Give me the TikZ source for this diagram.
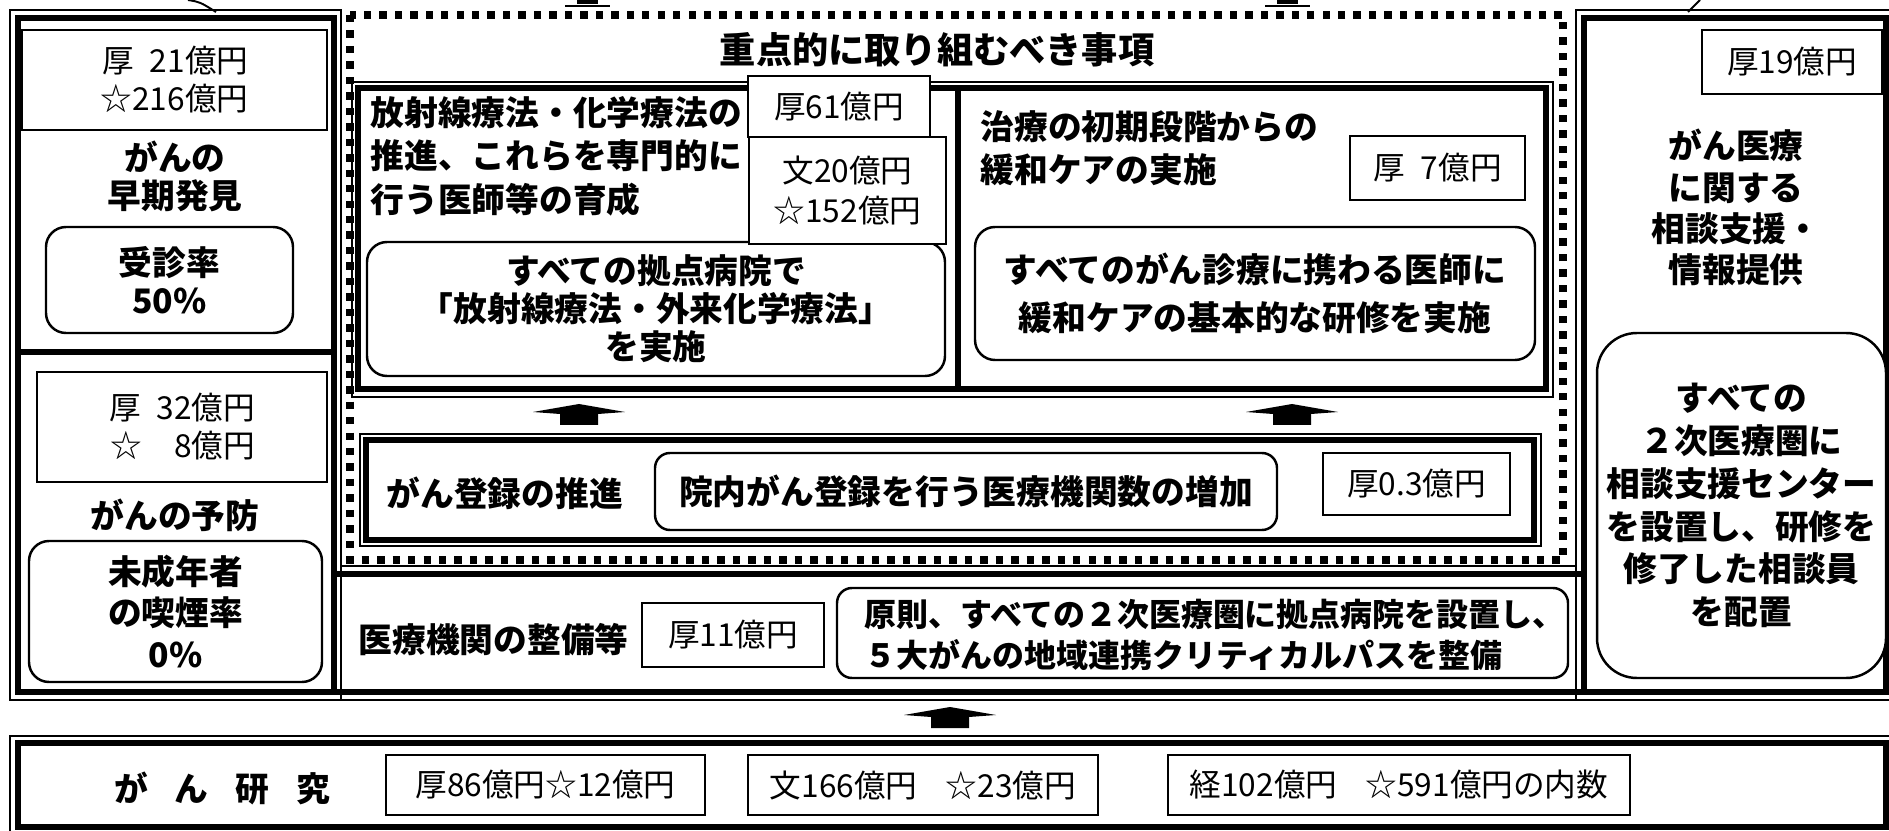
\documentclass[tikz,border=0pt]{standalone}
\usepackage{fontspec}
\setmainfont{Noto Sans CJK JP}

\begin{document}
\begin{tikzpicture}[x=0.1mm, y=-0.1mm,
    thinrule/.style={line width=0.55pt},
    thickrule/.style={line width=1.7pt},
    dotrule/.style={line width=2.1pt, dash pattern=on 2.1pt off 2.3pt},
    lbl/.style={inner sep=0pt, align=center,
      font=\bfseries\fontsize{9.6}{#1}\selectfont},
    lbl/.default=10.8pt,
    money/.style={draw, line width=0.7pt, fill=white, inner sep=0pt,
      align=center, font=\fontsize{9}{#1}\selectfont},
    money/.default=10.8pt,
    rbox/.style={draw, line width=0.7pt, fill=white, rounded corners=2mm,
      inner sep=0pt, align=center,
      font=\bfseries\fontsize{9.6}{#1}\selectfont},
    rbox/.default=10.8pt,
    uparrow/.pic={\fill (-46,-13) -- (0,-21) -- (46,-13) -- (19,-11)
      -- (19,0) -- (-19,0) -- (-19,-11) -- cycle;}
  ]
  \fill[white] (0,0) rectangle (1889,831);
  \useasboundingbox (0,0) rectangle (1889,831);

  % cut-off strokes along the top edge
  \draw[thinrule] (188,0) .. controls (200,2) .. (216,12);
  \fill (577,0) rectangle (598,4);
  \draw[thinrule] (565,6) -- (610,6);
  \fill (1277,0) rectangle (1298,4);
  \draw[thinrule] (1265,6) -- (1310,6);
  \draw[thinrule] (1700,0) -- (1688,12);

  % frames
  \draw[thinrule] (10,10) rectangle (341,700);
  \draw[thickrule] (18,18) rectangle (334,692);
  \draw[thickrule] (18,352) -- (334,352);
  \draw[thinrule] (1576,10) rectangle (1900,700);
  \draw[thickrule] (1584,18) rectangle (1886,692);
  \draw[thinrule] (341,566) -- (1576,566);
  \draw[thickrule] (334,574) -- (1584,574);
  \draw[thinrule] (341,700) -- (1576,700);
  \draw[thickrule] (334,692) -- (1584,692);
  \draw[dotrule] (350,15) rectangle (1563,560);
  \draw[thinrule] (352,82) rectangle (1553,397);
  \draw[thickrule] (358,88) rectangle (1546,389);
  \draw[thickrule] (958,88) -- (958,389);
  \draw[thinrule] (360,434) rectangle (1541,546);
  \draw[thickrule] (366,440) rectangle (1534,540);
  \draw[thinrule] (10,736) rectangle (1900,840);
  \draw[thickrule] (18,743) rectangle (1886,827);

  % left column
  \node[money, minimum width=30.5mm, minimum height=10mm, align=right]
    (kou21) at (174.5,80) {厚\enspace 21億円\\☆216億円};
  \node[lbl] (souki) at (175,176) {がんの\\早期発見};
  \node[rbox, minimum width=24.7mm, minimum height=10.6mm]
    (jushin) at (169.5,280) {受診率\\50\%};
  \node[money, minimum width=29mm, minimum height=11mm, align=right]
    (kou32) at (182,427) {厚\enspace 32億円\\☆\enspace\enspace 8億円};
  \node[lbl] (yobou) at (175,515) {がんの予防};
  \node[rbox=11.7pt, minimum width=29.3mm, minimum height=14.1mm]
    (kitsuen) at (175.5,611.5) {未成年者\\の喫煙率\\0\%};

  % middle column
  \node[lbl, font=\bfseries\fontsize{10.3}{12}\selectfont]
    (juten) at (937,50) {重点的に取り組むべき事項};
  \node[rbox, minimum width=57.8mm, minimum height=13.4mm]
    (kyoten) at (656,309)
    {すべての拠点病院で\\「放射線療法・外来化学療法」\\を実施};
  \node[lbl=12.4pt, align=left, anchor=west]
    (housha) at (370,156)
    {放射線療法・化学療法の\\推進、これらを専門的に\\行う医師等の育成};
  \node[money, minimum width=18.2mm, minimum height=6.1mm]
    (kou61) at (839,106.5) {厚61億円};
  \node[money=11.4pt, minimum width=19.7mm, minimum height=10.7mm]
    (bun20) at (847.5,190.5) {文20億円\\☆152億円};
  \node[lbl=12.2pt, align=left, anchor=west]
    (kanwa) at (980,148.5) {治療の初期段階からの\\緩和ケアの実施};
  \node[money, minimum width=17.5mm, minimum height=6.4mm]
    (kou7) at (1437.5,168) {厚\enspace 7億円};
  \node[rbox=13.4pt, minimum width=56mm, minimum height=13.3mm]
    (kenshu) at (1255,293.5)
    {すべてのがん診療に携わる医師に\\緩和ケアの基本的な研修を実施};
  \pic at (579,425) {uparrow};
  \pic at (1292,425) {uparrow};
  \node[lbl, anchor=west] (touroku) at (386,493) {がん登録の推進};
  \node[rbox, rounded corners=1.5mm, minimum width=62.2mm,
    minimum height=7.7mm] (innai) at (966,491.5)
    {院内がん登録を行う医療機関数の増加};
  \node[money, minimum width=18.7mm, minimum height=6.2mm]
    (kou03) at (1416.5,484) {厚0.3億円};
  \node[lbl, anchor=west] (seibi) at (358,640) {医療機関の整備等};
  \node[money, minimum width=18.2mm, minimum height=6.4mm]
    (kou11) at (733,635) {厚11億円};
  \node[rbox, rounded corners=1.5mm, minimum width=73.1mm,
    minimum height=9mm] (gensoku) at (1202.5,633) {};
  \node[lbl=11.7pt, align=left, anchor=west,
    font=\bfseries\fontsize{9.1}{11.7pt}\selectfont] (gentext) at (864,635)
    {原則、すべての２次医療圏に拠点病院を設置し、\\５大がんの地域連携クリティカルパスを整備};

  % right column
  \node[money, minimum width=18mm, minimum height=6.4mm]
    (kou19) at (1792,62) {厚19億円};
  \node[lbl=11.7pt] (soudan) at (1736,207.5)
    {がん医療\\に関する\\相談支援・\\情報提供};
  \node[rbox=12.2pt, rounded corners=4mm, minimum width=28.9mm,
    minimum height=34.5mm] (center) at (1741.5,505.5)
    {すべての\\２次医療圏に\\相談支援センター\\を設置し、研修を\\修了した相談員\\を配置};

  % bottom row
  \pic at (950,728) {uparrow};
  \node[lbl] (kenkyu) at (222,788)
    {が\hspace{0.8em}ん\hspace{0.8em}研\hspace{0.8em}究};
  \node[money, minimum width=31.9mm, minimum height=6mm]
    (kou86) at (545.5,785) {厚86億円☆12億円};
  \node[money, minimum width=35mm, minimum height=6mm]
    (bun166) at (923,785) {文166億円\hspace{0.9em}☆23億円};
  \node[money, minimum width=46.2mm, minimum height=6mm]
    (kei102) at (1399,785) {経102億円\hspace{0.9em}☆591億円の内数};
\end{tikzpicture}
\end{document}
